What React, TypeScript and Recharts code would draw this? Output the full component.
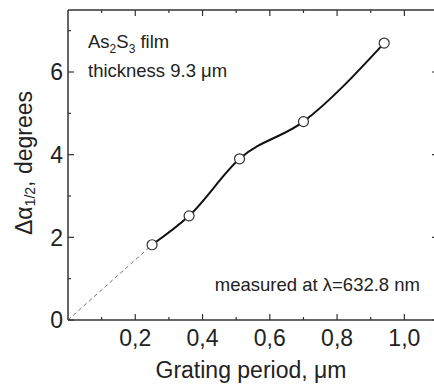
import React from "react";
import {
  LineChart,
  Line,
  XAxis,
  YAxis,
  ReferenceLine,
} from "recharts";

// measured points
const PERIOD = [0.25, 0.36, 0.51, 0.7, 0.94];
const DELTA = [1.82, 2.52, 3.9, 4.8, 6.7];
// extrapolation to origin
const FIT_PERIOD = [0, 0.25];
const FIT_DELTA = [0, 1.82];

const X_TICKS = [0.1, 0.2, 0.3, 0.4, 0.5, 0.6, 0.7, 0.8, 0.9, 1.0];
const Y_TICKS = [0, 1, 2, 3, 4, 5, 6, 7];

const W = 440;
const H = 390;
const TOP = 10;
const RIGHT = 2;
const AXIS_W = 68;
const AXIS_H = 70;
const FONT = "'Liberation Sans', Arial, sans-serif";
const INK = "#222";

const measured = PERIOD.map((x, i) => ({ x, y: DELTA[i] }));
const fit = FIT_PERIOD.map((x, i) => ({ x, y: FIT_DELTA[i] }));

const XTick = (props: any) => {
  const { x, y, payload } = props;
  const v = payload.value;
  const major = Math.round(v * 10) % 2 === 0;
  const len = major ? 6 : 3;
  return (
    <g>
      <line x1={x} x2={x} y1={y} y2={y - len} stroke="#333" strokeWidth={1.2} />
      <line x1={x} x2={x} y1={TOP} y2={TOP + len} stroke="#333" strokeWidth={1.2} />
      {major && (
        <text x={x} y={y + 26} textAnchor="middle" fontSize={23} fill={INK} fontFamily={FONT}>
          {v.toFixed(1).replace(".", ",")}
        </text>
      )}
    </g>
  );
};

const YTick = (props: any) => {
  const { x, y, payload } = props;
  const v = payload.value;
  const major = v % 2 === 0;
  const len = major ? 6 : 3;
  const right = W - RIGHT;
  return (
    <g>
      <line x1={x} x2={x + len} y1={y} y2={y} stroke="#333" strokeWidth={1.2} />
      <line x1={right - len} x2={right} y1={y} y2={y} stroke="#333" strokeWidth={1.2} />
      {major && (
        <text x={x - 5} y={y} dy="0.36em" textAnchor="end" fontSize={23} fill={INK} fontFamily={FONT}>
          {v}
        </text>
      )}
    </g>
  );
};

const YTitle = (props: any) => {
  const vb = props.viewBox || { x: 0, y: TOP, width: AXIS_W, height: H - TOP - AXIS_H };
  const cx = 24;
  const cy = vb.y + vb.height / 2 - 2;
  return (
    <text
      x={cx}
      y={cy}
      transform={`rotate(-90 ${cx} ${cy})`}
      textAnchor="middle"
      dominantBaseline="central"
      fontSize={23}
      fill={INK}
      fontFamily={FONT}
    >
      Δα
      <tspan fontSize={14} dy={6}>1/2</tspan>
      <tspan dy={-6}>, degrees</tspan>
    </text>
  );
};

const XTitle = (props: any) => {
  const vb = props.viewBox;
  const cx = vb.x + vb.width / 2 - 2;
  return (
    <text x={cx} y={378} textAnchor="middle" fontSize={23} fill={INK} fontFamily={FONT}>
      Grating period, μm
    </text>
  );
};

export default function App() {
  return (
    <div
      style={{
        position: "absolute",
        left: 0,
        top: 0,
        width: 434,
        height: 390,
        overflow: "hidden",
        background: "#fff",
        fontFamily: FONT,
        color: INK,
      }}
    >
      <LineChart width={W} height={H} margin={{ top: TOP, right: RIGHT, bottom: 0, left: 0 }}>
        <XAxis
          type="number"
          dataKey="x"
          domain={[0, 1.1]}
          ticks={X_TICKS}
          interval={0}
          allowDataOverflow
          height={AXIS_H}
          tickSize={0}
          tickMargin={0}
          tickLine={false}
          tick={<XTick />}
          axisLine={{ stroke: "#333", strokeWidth: 1.5 }}
          label={<XTitle />}
        />
        <YAxis
          type="number"
          dataKey="y"
          domain={[0, 7.5]}
          ticks={Y_TICKS}
          interval={0}
          allowDataOverflow
          width={AXIS_W}
          tickSize={0}
          tickMargin={0}
          tickLine={false}
          tick={<YTick />}
          axisLine={{ stroke: "#333", strokeWidth: 1.5 }}
          label={<YTitle />}
        />
        <ReferenceLine y={7.5} stroke="#333" strokeWidth={1.5} />
        <ReferenceLine x={1.1} stroke="#333" strokeWidth={1.5} />
        <Line
          data={fit}
          dataKey="y"
          type="linear"
          stroke="#777"
          strokeWidth={1}
          strokeDasharray="4 3"
          dot={false}
          isAnimationActive={false}
        />
        <Line
          data={measured}
          dataKey="y"
          type="monotone"
          stroke="#111"
          strokeWidth={2}
          dot={{ r: 5, fill: "#fff", stroke: "#333", strokeWidth: 1.2 }}
          isAnimationActive={false}
        />
      </LineChart>

      <div style={{ position: "absolute", left: 88, top: 32, fontSize: 18.5, lineHeight: "20px", whiteSpace: "nowrap" }}>
        As<sub style={{ fontSize: 12, verticalAlign: "-5px", lineHeight: 0 }}>2</sub>S
        <sub style={{ fontSize: 12, verticalAlign: "-5px", lineHeight: 0 }}>3</sub> film
      </div>
      <div style={{ position: "absolute", left: 88, top: 61, fontSize: 18.5, lineHeight: "20px", whiteSpace: "nowrap" }}>
        thickness 9.3 μm
      </div>
      <div
        style={{
          position: "absolute",
          right: 14,
          top: 274,
          fontSize: 18.5,
          whiteSpace: "nowrap",
        }}
      >
        measured at λ=632.8 nm
      </div>
    </div>
  );
}
